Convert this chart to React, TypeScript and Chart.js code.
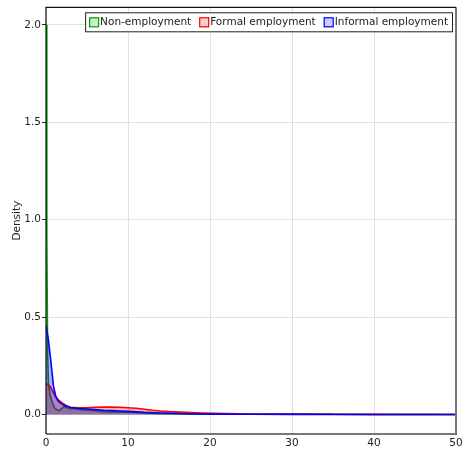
import React, { useEffect, useRef } from "react";
import { Chart, registerables } from "chart.js";

Chart.register(...registerables);

const seriesNames = ["Non-employment", "Formal employment", "Informal employment"];

const nonX = [0, 0.1, 0.2, 0.3, 0.5, 0.7, 1.0, 1.3, 1.6, 1.9, 2.2, 2.5, 3.0, 3.5, 4, 4.5, 5, 6, 7, 7.5, 8, 9, 10, 11, 12, 13, 15, 17, 20, 25, 30, 34, 34.5, 35, 40, 50];
const nonY = [2.0, 0.9, 0.3, 0.16, 0.1, 0.07, 0.035, 0.025, 0.02, 0.03, 0.04, 0.035, 0.03, 0.031, 0.026, 0.025, 0.022, 0.019, 0.014, 0.012, 0.014, 0.012, 0.013, 0.01, 0.008, 0.006, 0.004, 0.003, 0.002, 0.001, 0.001, 0.001, 0.003, 0.001, 0, 0];

const formalX = [0, 0.5, 1, 1.5, 2, 2.5, 3, 4, 5, 6, 7, 8, 9, 10, 11, 12, 13, 14, 15, 17, 19, 22, 25, 30, 35, 40, 50];
const formalY = [0.16, 0.145, 0.105, 0.075, 0.058, 0.045, 0.037, 0.034, 0.035, 0.037, 0.038, 0.038, 0.037, 0.035, 0.032, 0.027, 0.022, 0.018, 0.015, 0.011, 0.008, 0.005, 0.003, 0.002, 0.001, 0.0005, 0];

const informalX = [0, 0.3, 0.6, 0.9, 1.2, 1.5, 2, 2.5, 3, 4, 5, 6, 7, 8, 9, 10, 12, 14, 17, 20, 25, 30, 40, 50];
const informalY = [0.46, 0.38, 0.27, 0.15, 0.09, 0.068, 0.052, 0.042, 0.036, 0.031, 0.028, 0.025, 0.022, 0.02, 0.018, 0.016, 0.011, 0.008, 0.004, 0.002, 0.001, 0.0005, 0, 0];

const yTicks = [0, 0.5, 1.0, 1.5, 2.0];
const xTicks = [0, 10, 20, 30, 40, 50];

const lineColors = ["#00a000", "#ff0000", "#0000ff"];
const fillColors = ["rgba(0,160,0,0.3)", "rgba(255,0,0,0.3)", "rgba(0,0,255,0.3)"];
const legendFills = ["rgba(0,160,0,0.2)", "rgba(255,0,0,0.2)", "rgba(0,0,255,0.2)"];

const FONT = "'DejaVu Sans', sans-serif";
const FS = 10.5;

function toPoints(xs: number[], ys: number[]) {
  return xs.map((x, i) => ({ x, y: ys[i] }));
}

const framePlugin = {
  id: "frame",
  afterDraw(chart: any) {
    const { ctx, chartArea: a } = chart;
    ctx.save();
    ctx.strokeStyle = "#777";
    ctx.lineWidth = 2;
    ctx.beginPath();
    ctx.moveTo(a.left, a.bottom);
    ctx.lineTo(a.right, a.bottom);
    ctx.lineTo(a.right, a.top);
    ctx.stroke();
    ctx.strokeStyle = "#111";
    ctx.lineWidth = 1.2;
    ctx.beginPath();
    ctx.moveTo(a.left, a.bottom);
    ctx.lineTo(a.left, a.top);
    ctx.lineTo(a.right, a.top);
    ctx.stroke();

    // legend
    ctx.font = `${FS}px ${FONT}`;
    ctx.textBaseline = "middle";
    const box = 10;
    const gapAfterBox = 1;
    const gapItems = 8;
    const widths = seriesNames.map((n) => ctx.measureText(n).width);
    const total = widths.reduce((s, w) => s + w + box + gapAfterBox, 0) + gapItems * (seriesNames.length - 1) + 8;
    const right = a.right - 4;
    const left = right - total;
    const top = a.top + 5;
    const h = 19;
    ctx.fillStyle = "#fff";
    ctx.fillRect(left, top, total, h);
    ctx.strokeStyle = "#222";
    ctx.lineWidth = 1;
    ctx.strokeRect(left + 0.5, top + 0.5, total, h);
    let x = left + 4;
    const cy = top + h / 2 + 0.5;
    seriesNames.forEach((n, i) => {
      ctx.fillStyle = legendFills[i];
      ctx.fillRect(x, cy - 5, box, box);
      ctx.strokeStyle = lineColors[i];
      ctx.lineWidth = 1.2;
      ctx.strokeRect(x + 0.5, cy - 5 + 0.5, box - 1, box - 1);
      ctx.fillStyle = "#222";
      ctx.fillText(n, x + box + gapAfterBox, cy);
      x += box + gapAfterBox + widths[i] + gapItems;
    });
    ctx.restore();
  },
};

export default function App() {
  const ref = useRef<HTMLCanvasElement>(null);
  useEffect(() => {
    const canvas = ref.current;
    if (!canvas) return;
    const xsArr = [nonX, formalX, informalX];
    const ysArr = [nonY, formalY, informalY];
    const chart = new Chart(canvas, {
      type: "line",
      data: {
        datasets: seriesNames.map((name, i) => ({
          label: name,
          data: toPoints(xsArr[i], ysArr[i]),
          borderColor: lineColors[i],
          backgroundColor: fillColors[i],
          borderWidth: 1.6,
          pointRadius: 0,
          tension: 0,
          fill: "origin",
          order: 3 - i,
        })),
      },
      options: {
        animation: false,
        responsive: false,
        maintainAspectRatio: false,
        layout: { padding: { top: 5, right: 11, left: 0, bottom: 0 } },
        plugins: { legend: { display: false }, tooltip: { enabled: false } },
        scales: {
          x: {
            type: "linear",
            min: 0,
            max: 50,
            afterBuildTicks: (s: any) => {
              s.ticks = xTicks.map((v) => ({ value: v }));
            },
            afterFit: (s: any) => {
              s.height = 18;
            },
            grid: { color: "#e0e0e0", drawTicks: false },
            border: { display: false },
            ticks: { color: "#222", font: { family: FONT, size: FS }, padding: 3, maxRotation: 0 },
          },
          y: {
            type: "linear",
            min: -0.1,
            max: 2.09,
            afterBuildTicks: (s: any) => {
              s.ticks = yTicks.map((v) => ({ value: v }));
            },
            afterFit: (s: any) => {
              s.width = 46;
            },
            grid: { color: "#e0e0e0", tickLength: 4, tickColor: "#222" },
            border: { display: false },
            ticks: {
              color: "#222",
              font: { family: FONT, size: FS },
              padding: 1,
              callback: (v: any) => Number(v).toFixed(1),
            },
            title: {
              display: true,
              text: "Density",
              color: "#222",
              font: { family: FONT, size: FS },
              padding: { top: 11, bottom: 0 },
            },
          },
        },
      },
      plugins: [framePlugin],
    });
    return () => chart.destroy();
  }, []);
  return (
    <div style={{ position: "absolute", left: 0, top: 0, width: 467, height: 452 }}>
      <canvas ref={ref} width={467} height={452} style={{ width: 467, height: 452 }} />
    </div>
  );
}
